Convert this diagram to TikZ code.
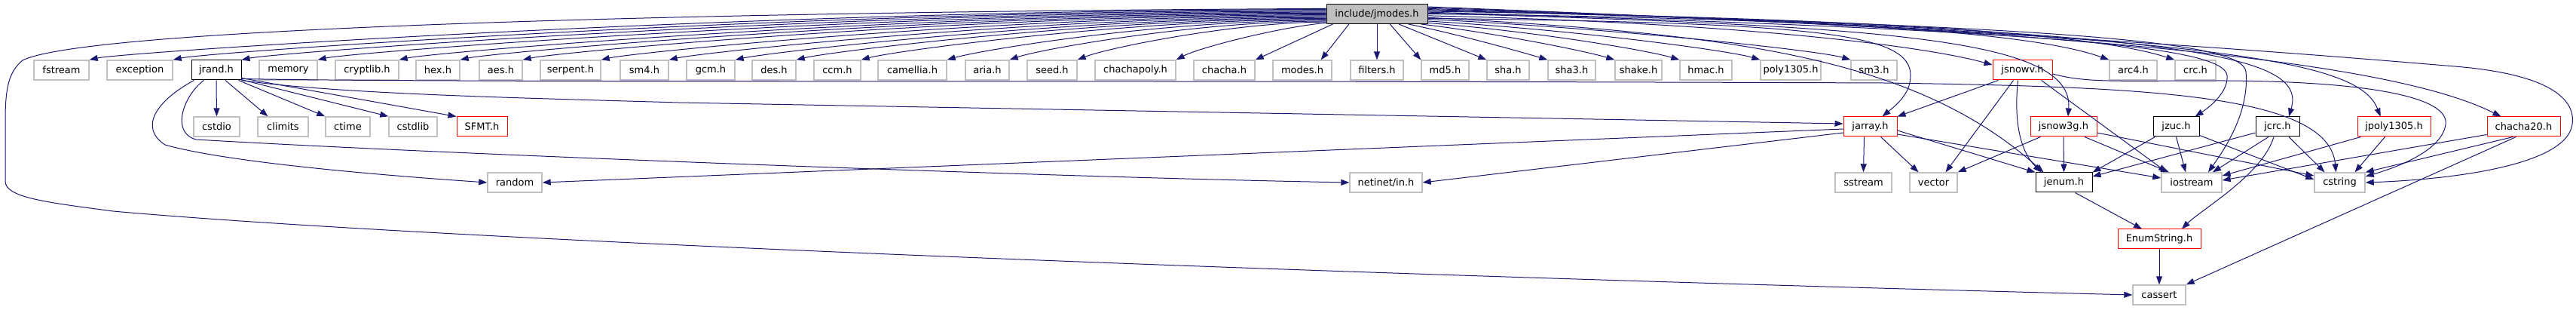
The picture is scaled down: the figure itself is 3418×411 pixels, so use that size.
\documentclass[tikz,border=0pt]{standalone}
\usepackage{fontspec}
\newfontfamily\dvs{DejaVu Sans}
\usetikzlibrary{arrows.meta,calc}
\definecolor{edgeblue}{HTML}{191970}
\definecolor{boxgray}{HTML}{BFBFBF}
\newcommand\nd[6]{\node[#1, minimum width={(#4-#3)*1pt}] (#2) at ({(#3+#4)/2},#5) {#6};}
\begin{document}
\begin{tikzpicture}[x=1pt,y=-1pt,
  box/.style={draw, rectangle, inner sep=0pt, minimum height=26pt, line width=1pt, fill=white, font=\dvs\fontsize{13}{15}\selectfont, text=black},
  gbox/.style={box, draw=boxgray, line width=1.4pt},
  rbox/.style={box, draw=red},
  bbox/.style={box, draw=black},
  rootbox/.style={box, draw=black, fill=boxgray},
  edge/.style={draw=edgeblue, line width=1pt, -{Triangle[length=11pt,width=8pt]}},
]
\useasboundingbox (0,0) rectangle (3418,411);
% row 0
\nd{rootbox}{jmodes}{1760}{1894}{18.5}{include/jmodes.h}
% row 1
\nd{gbox}{fstream}{45}{118}{93}{fstream}
\nd{gbox}{exception}{142}{229}{93}{exception}
\nd{bbox}{jrand}{254}{320}{93}{jrand.h}
\nd{gbox}{memory}{344}{421}{93}{memory}
\nd{gbox}{cryptlib}{445}{529}{93}{cryptlib.h}
\nd{gbox}{hex}{552}{610}{93}{hex.h}
\nd{gbox}{aes}{636}{693}{93}{aes.h}
\nd{gbox}{serpent}{717}{797}{93}{serpent.h}
\nd{gbox}{sm4}{823}{887}{93}{sm4.h}
\nd{gbox}{gcm}{911}{975}{93}{gcm.h}
\nd{gbox}{des}{998}{1056}{93}{des.h}
\nd{gbox}{ccm}{1080}{1142}{93}{ccm.h}
\nd{gbox}{camellia}{1165}{1256}{93}{camellia.h}
\nd{gbox}{aria}{1281}{1339}{93}{aria.h}
\nd{gbox}{seed}{1363}{1429}{93}{seed.h}
\nd{gbox}{chachapoly}{1453}{1560}{93}{chachapoly.h}
\nd{gbox}{chacha}{1584}{1665}{93}{chacha.h}
\nd{gbox}{modes}{1689}{1767}{93}{modes.h}
\nd{gbox}{filters}{1792}{1862}{93}{filters.h}
\nd{gbox}{md5}{1886}{1949}{93}{md5.h}
\nd{gbox}{sha}{1973}{2029}{93}{sha.h}
\nd{gbox}{sha3}{2054}{2117}{93}{sha3.h}
\nd{gbox}{shake}{2143}{2205}{93}{shake.h}
\nd{gbox}{hmac}{2229}{2298}{93}{hmac.h}
\nd{gbox}{polyA}{2336}{2416}{93}{poly1305.h}
\nd{gbox}{sm3}{2456}{2517}{93}{sm3.h}
\nd{rbox}{jsnowv}{2644}{2723}{93}{jsnowv.h}
\nd{gbox}{arc4}{2799}{2862}{93}{arc4.h}
\nd{gbox}{crc}{2886}{2940}{93}{crc.h}
% row 2
\nd{gbox}{cstdio}{257}{318}{168}{cstdio}
\nd{gbox}{climits}{342}{409}{168}{climits}
\nd{gbox}{ctime}{432}{491}{168}{ctime}
\nd{gbox}{cstdlib}{516}{580}{168}{cstdlib}
\nd{rbox}{sfmt}{606}{673}{168}{SFMT.h}
\nd{rbox}{jarray}{2446}{2517}{168}{jarray.h}
\nd{rbox}{jsnowg}{2694}{2782}{168}{jsnow3g.h}
\nd{bbox}{jzuc}{2857}{2918}{168}{jzuc.h}
\nd{bbox}{jcrc}{2993}{3051}{168}{jcrc.h}
\nd{rbox}{jpoly}{3128}{3225}{168}{jpoly1305.h}
\nd{rbox}{chachaB}{3300}{3397}{168}{chacha20.h}
% row 3
\nd{gbox}{random}{647}{719}{242}{random}
\nd{gbox}{netinet}{1791}{1887}{242}{netinet/in.h}
\nd{gbox}{sstream}{2435}{2510}{242}{sstream}
\nd{gbox}{vector}{2534}{2597}{242}{vector}
\nd{bbox}{jenum}{2701}{2776}{242}{jenum.h}
\nd{gbox}{iostream}{2868}{2948}{242}{iostream}
\nd{gbox}{cstring}{3071}{3138}{242}{cstring}
% row 4, 5
\nd{rbox}{enumstr}{2810}{2920}{317}{EnumString.h}
\nd{gbox}{cassert}{2830}{2900}{391}{cassert}

% ---- edges from include/jmodes.h, left part of row 1
\draw[edge] (jmodes.174) .. controls (1000,15) and (120,35) .. (30,80) .. controls (12,95) and (7,115) .. (7,160) -- (7,240) .. controls (7,262) and (60,268) .. (150,280) .. controls (600,320) and (1800,365) .. (cassert.west);
\draw[edge] (jmodes.175) .. controls +(-750,0) and +(45,-10) .. (fstream.north east);
\draw[edge] (jmodes.176) .. controls +(-700,0) and +(45,-10) .. (exception.north east);
\draw[edge] (jmodes.177) .. controls +(-650,0) and +(45,-10) .. (jrand.north east);
\draw[edge] (jmodes.178) .. controls +(-600,0) and +(45,-10) .. (memory.north east);
\draw[edge] (jmodes.179) .. controls +(-560,0) and +(45,-10) .. (cryptlib.north east);
\draw[edge] (jmodes.180) .. controls +(-520,0) and +(45,-10) .. (hex.north east);
\draw[edge] (jmodes.181) .. controls +(-480,0) and +(45,-10) .. (aes.north east);
\draw[edge] (jmodes.182) .. controls +(-430,0) and +(45,-10) .. (serpent.north east);
\draw[edge] (jmodes.183) .. controls +(-380,0) and +(45,-10) .. (sm4.north east);
\draw[edge] (jmodes.184) .. controls +(-340,0) and +(45,-10) .. (gcm.north east);
\draw[edge] (jmodes.185) .. controls +(-300,0) and +(45,-11) .. (des.north east);
\draw[edge] (jmodes.186) .. controls +(-260,0) and +(45,-12) .. (ccm.north east);
\draw[edge] (jmodes.187) .. controls +(-220,0) and +(45,-13) .. (camellia.north east);
\draw[edge] (jmodes.188) .. controls +(-170,0) and +(40,-14) .. (aria.north east);
\draw[edge] (jmodes.189) .. controls +(-120,0) and +(40,-16) .. (seed.north east);
\draw[edge] (jmodes.190) .. controls +(-60,5) and +(30,-16) .. (chachapoly.north east);
\draw[edge] (jmodes.193) -- (chacha.north east);
\draw[edge] (jmodes.200) -- ($(modes.north east)+(-15,0)$);
\draw[edge] (jmodes.south) -- (filters.north);
% right part of row 1
\draw[edge] (jmodes.322) -- (md5.north west);
\draw[edge] (jmodes.335) -- (sha.north west);
\draw[edge] (jmodes.342) .. controls +(60,12) and +(-40,-12) .. (sha3.north west);
\draw[edge] (jmodes.347) .. controls +(100,12) and +(-40,-12) .. (shake.north west);
\draw[edge] (jmodes.350) .. controls +(150,12) and +(-40,-12) .. (hmac.north west);
\draw[edge] (jmodes.352) .. controls +(200,12) and +(-40,-12) .. (polyA.north west);
\draw[edge] (jmodes.354) .. controls +(250,12) and +(-40,-12) .. (sm3.north west);
\draw[edge] (jmodes.355) .. controls (2420,30) and (2535,45) .. (2535,100) .. controls (2535,125) and (2515,140) .. ($(jarray.north)+(16,0)$);
\draw[edge] (jmodes.356) .. controls (2300,45) and (2540,75) .. ($(jenum.north)+(-27,0)$);
\draw[edge] (jmodes.358) .. controls (2300,30) and (2550,60) .. ($(jsnowv.west)+(0,-7)$);
\draw[edge] (jmodes.0) .. controls (2500,25) and (2710,48) .. (arc4.north west);
\draw[edge] (jmodes.1) .. controls (2500,35) and (2752,50) .. ($(jsnowg.north)+(6,0)$);
\draw[edge] (jmodes.2) .. controls (2700,40) and (2950,60) .. (2955,100) .. controls (2957,120) and (2935,140) .. ($(jzuc.north)+(25,0)$);
\draw[edge] (jmodes.3) .. controls (2600,26) and (2800,52) .. (crc.north west);
\draw[edge] (jmodes.4) .. controls (2750,35) and (2975,55) .. (2980,95) .. controls (2985,150) and (2950,200) .. ($(iostream.north)+(22,0)$);
\draw[edge] (jmodes.5) .. controls (2900,40) and (3062,70) .. ($(jcrc.north)+(15,0)$);
\draw[edge] (jmodes.6) .. controls (2950,45) and (3130,80) .. ($(jpoly.north)+(-18,0)$);
\draw[edge] (jmodes.7) .. controls (2800,40) and (3180,85) .. ($(chachaB.north)+(-30,0)$);
\draw[edge] (jmodes.8) .. controls (2700,40) and (3100,75) .. (3257,88) .. controls (3380,98) and (3418,130) .. (3413,165) .. controls (3405,220) and (3250,238) .. (cstring.east);

% ---- jrand.h
\draw[edge] (jrand.south) -- (cstdio.north);
\draw[edge] ($(jrand.south)+(12,0)$) -- ($(climits.north)+(-20,0)$);
\draw[edge] ($(jrand.south east)+(-4,0)$) -- (ctime.north west);
\draw[edge] ($(jrand.south east)+(-1,-1)$) -- (cstdlib.north west);
\draw[edge] ($(jrand.south east)+(0,-3)$) -- (sfmt.north west);
\draw[edge] ($(jrand.south west)+(4,0)$) .. controls (205,135) and (185,170) .. (219,192) .. controls (300,215) and (500,232) .. (random.west);
\draw[edge] ($(jrand.south west)+(17,0)$) .. controls (245,125) and (225,175) .. (260,185) .. controls (600,205) and (1400,235) .. (netinet.west);
\draw[edge] (jrand.south east) .. controls (450,125) and (700,130) .. (900,136) -- ($(jarray.west)+(0,-4)$);
\draw[edge] ($(jrand.south east)+(0,-2)$) .. controls (600,110) and (1500,106) .. (2500,110) .. controls (2850,115) and (3090,125) .. ($(cstring.north)+(-5,0)$);

% ---- jarray.h
\draw[edge] ($(jarray.south)+(-8,0)$) -- (sstream.north);
\draw[edge] ($(jarray.south)+(14,0)$) -- ($(vector.north)+(-20,0)$);
\draw[edge] ($(jarray.west)+(0,3)$) -- (random.east);
\draw[edge] ($(jarray.west)+(0,8)$) -- (netinet.east);
\draw[edge] ($(jarray.east)+(0,5)$) -- (jenum.north west);
\draw[edge] ($(jarray.east)+(0,10)$) -- ($(iostream.west)+(0,-6)$);

% ---- jsnowv.h
\draw[edge] ($(jsnowv.south west)+(8,0)$) -- (jarray.north east);
\draw[edge] ($(jsnowv.south)+(-12,0)$) -- ($(vector.north)+(16,0)$);
\draw[edge] ($(jsnowv.south)+(-6,0)$) .. controls (2672,160) and (2680,200) .. ($(jenum.north)+(-30,0)$);
\draw[edge] ($(jsnowv.south east)+(-15,0)$) -- ($(iostream.north)+(-33,0)$);
\draw[edge] ($(jsnowv.east)+(0,5)$) .. controls (2770,110) and (2800,107) .. (2950,107) .. controls (3150,108) and (3250,130) .. (3245,165) .. controls (3240,200) and (3180,222) .. ($(cstring.east)+(0,-8)$);

% ---- jsnow3g.h
\draw[edge] ($(jsnowg.south west)+(14,0)$) -- (vector.north east);
\draw[edge] (jsnowg.south) -- (jenum.north);
\draw[edge] ($(jsnowg.south)+(28,0)$) -- ($(iostream.north)+(-30,0)$);
\draw[edge] ($(jsnowg.east)+(0,8)$) -- ($(cstring.west)+(0,-9)$);

% ---- jzuc.h
\draw[edge] ($(jzuc.south west)+(3,0)$) -- (jenum.north east);
\draw[edge] (jzuc.south) -- ($(iostream.north)+(-8,0)$);
\draw[edge] ($(jzuc.south east)+(0,-2)$) -- ($(cstring.west)+(0,-4)$);

% ---- jcrc.h
\draw[edge] ($(jcrc.west)+(0,8)$) -- ($(jenum.east)+(0,-8)$);
\draw[edge] ($(jcrc.south)+(-12,0)$) -- ($(iostream.north)+(28,0)$);
\draw[edge] ($(jcrc.south)+(15,0)$) -- ($(cstring.north)+(-20,0)$);
\draw[edge] ($(jcrc.south)+(-5,0)$) .. controls +(-15,50) and +(25,-25) .. ($(enumstr.north)+(30,0)$);

% ---- jpoly1305.h
\draw[edge] ($(jpoly.south west)+(5,0)$) -- ($(iostream.east)+(0,-9)$);
\draw[edge] ($(jpoly.south)+(-12,0)$) -- ($(cstring.north)+(20,0)$);

% ---- chacha20.h
\draw[edge] ($(chachaB.south west)+(0,-3)$) -- ($(iostream.east)+(0,-3)$);
\draw[edge] ($(chachaB.south)+(-14,0)$) -- (cstring.north east);
\draw[edge] ($(chachaB.south)+(-10,0)$) -- (cassert.north east);

% ---- jenum.h, EnumString.h
\draw[edge] ($(jenum.south)+(15,0)$) -- ($(enumstr.north)+(-23,0)$);
\draw[edge] (enumstr.south) -- (cassert.north);
\end{tikzpicture}
\end{document}
